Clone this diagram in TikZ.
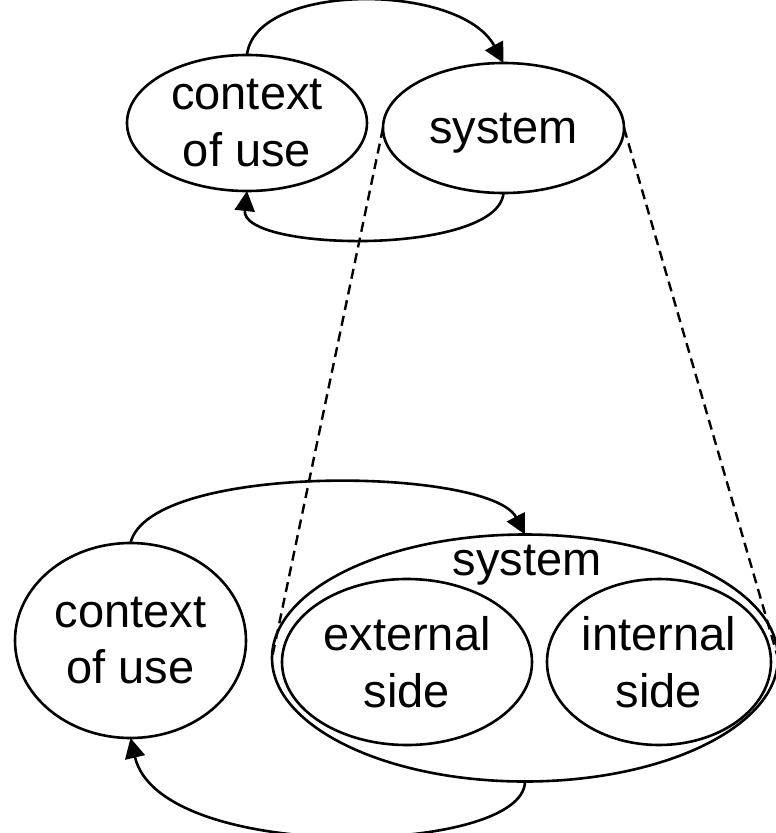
\documentclass[tikz,border=0pt]{standalone}
\usepackage{fontspec}
\setmainfont{Liberation Sans}
\usetikzlibrary{shapes.geometric,arrows.meta}
\begin{document}
\begin{tikzpicture}[x=1pt,y=-1pt,
  every node/.style={font=\fontsize{47}{56.5}\selectfont},
  ell/.style={ellipse,draw,line width=2.6pt,inner sep=0pt,outer sep=0pt,align=center},
  conn/.style={line width=2.6pt,-{Triangle[length=20pt,width=20pt]}},
  zoomline/.style={line width=2.4pt,dash pattern=on 10pt off 6pt}
]
\useasboundingbox[fill=white] (0,0) rectangle (776,833);
% top diagram
\node[ell,minimum width=240pt,minimum height=136pt] (ctx) at (247,123) {context\\of use};
\node[ell,minimum width=241pt,minimum height=130pt,text depth=0pt] (sys) at (503.5,128) {system};
% bottom diagram
\node[ell,minimum width=231pt,minimum height=195pt] (ctx2) at (130.5,640.5) {context\\of use};
\node[ell,minimum width=506pt,minimum height=247pt] (sys2) at (525,658) {};
\node[anchor=base] (sysl) at (527,575) {system};
\node[ell,minimum width=250pt,minimum height=166pt] (ext) at (407,662) {external\\side};
\node[ell,minimum width=224pt,minimum height=166pt] (int) at (659,662) {internal\\side};
% connectors top
\draw[conn] (ctx.north) .. controls (255,-18) and (460,-18) .. (sys.north);
\draw[conn] (sys.south) .. controls (498,256) and (240,252) .. (ctx.south);
% connectors bottom
\draw[conn] (ctx2.north) .. controls (150,462) and (490,467) .. (sys2.north);
\draw[conn] (sys2.south) .. controls (524,856) and (160,864) .. (ctx2.south);
% dashed zoom lines
\draw[zoomline] (sys.west) -- (sys2.west);
\draw[zoomline] (sys.east) -- (sys2.east);
\end{tikzpicture}
\end{document}
